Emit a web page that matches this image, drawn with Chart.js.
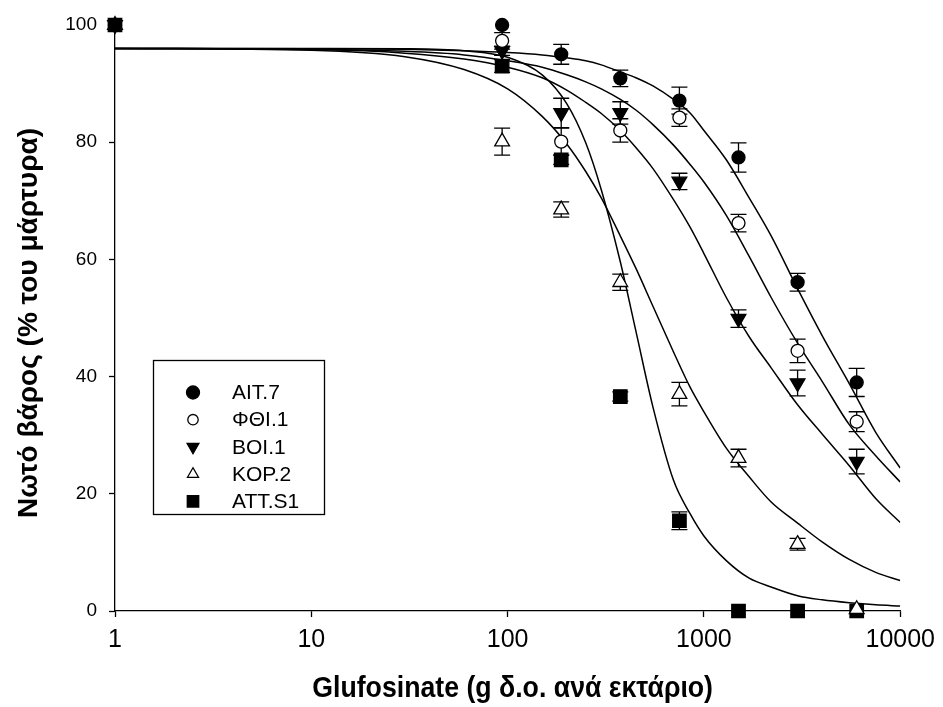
<!DOCTYPE html>
<html>
<head>
<meta charset="utf-8">
<script src="https://cdn.jsdelivr.net/npm/chart.js@4.4.0/dist/chart.umd.min.js"></script>
<style>
  html, body { margin: 0; padding: 0; background: #ffffff; }
  #wrap { width: 943px; height: 707px; }
</style>
</head>
<body>
<div id="wrap"><canvas id="chart" width="943" height="707"></canvas></div>
<script>
// Glufosinate doses (g a.i./ha) and observed dry weight (% of untreated control)
const doses = [1, 93.75, 187.5, 375, 750, 1500, 3000, 6000];
const seriesNames = ['AIT.7', 'ΦΘΙ.1', 'BOI.1', 'KOP.2', 'ATT.S1'];

const ait7    = [100, 100, 95.0, 90.9, 87.1, 77.4, 56.1, 39.0];
const ait7Err = [0, 0, 1.7, 1.4, 2.3, 2.5, 1.5, 2.4];
const fthi1    = [100, 97.3, 80.1, 82.0, 84.2, 66.2, 44.4, 32.3];
const fthi1Err = [0, 1.4, 2.3, 2.0, 1.5, 1.5, 2.0, 1.7];
const voi1    = [100, 95.6, 85.0, 85.0, 73.3, 49.9, 38.9, 25.5];
const voi1Err = [0, 0.8, 2.5, 1.9, 1.4, 1.5, 2.2, 2.1];
const kor2    = [100, 80.1, 68.5, 56.1, 37.0, 26.1, 11.4, 0.3];
const kor2Err = [0, 2.3, 1.3, 1.4, 2.0, 1.5, 1.0, 0];
const atts1    = [100, 93.0, 77.0, 36.6, 15.4, 0, 0, 0];
const atts1Err = [0, 1.1, 0.8, 0.8, 1.5, 0, 0, 0];

// Fitted dose-response curves
const curveDoses = [1, 10, 30, 60, 100, 150, 200, 250, 300, 375, 450, 550, 700, 850, 1000, 1300, 1700, 2200, 3000, 4000, 5500, 7500, 10000];
const ait7Fit  = [96, 95.95, 95.85, 95.6, 95.3, 94.9, 94.4, 93.9, 93.2, 92.0, 91.0, 89.6, 87.3, 85.0, 82.0, 77.0, 70.5, 64.0, 55.0, 47.0, 38.8, 30.5, 24.4];
const fthi1Fit = [96, 95.85, 95.5, 94.9, 93.9, 92.8, 91.5, 90.3, 89.1, 87.3, 85.5, 83.0, 79.5, 76.2, 73.2, 67.5, 60.5, 53.5, 45.7, 39.2, 31.8, 26.5, 22.0];
const voi1Fit  = [96, 95.8, 95.2, 94.2, 92.8, 91.0, 88.9, 86.8, 84.9, 82.0, 79.1, 75.5, 70.2, 65.5, 61.0, 53.5, 46.8, 41.5, 35.2, 30.2, 24.8, 19.2, 15.1];
const kor2Fit  = [96, 95.7, 94.6, 92.4, 89.1, 84.4, 79.7, 75.0, 70.5, 64.0, 58.5, 52.0, 44.2, 38.2, 34.0, 27.8, 22.9, 18.6, 15.0, 11.8, 8.8, 6.6, 5.2];
const atts1Fit = [96, 96, 95.95, 95.6, 94.5, 91.5, 86.6, 79.9, 71.9, 59.6, 47.8, 34.8, 22.3, 16.6, 12.8, 8.6, 5.6, 4.1, 2.6, 1.9, 1.4, 1.05, 0.85];

const xTicks = [1, 10, 100, 1000, 10000];
const yTicks = [0, 20, 40, 60, 80, 100];
const xTitle = 'Glufosinate (g δ.ο. ανά εκτάριο)';
const yTitle = 'Νωτό βάρος (% του μάρτυρα)';

// Marker appearance per population
const markers = [
  { style: 'circle',   rotation: 0,   fill: '#000000', radius: 6.5 },
  { style: 'circle',   rotation: 0,   fill: '#ffffff', radius: 6.5 },
  { style: 'triangle', rotation: 180, fill: '#000000', radius: 8.5 },
  { style: 'triangle', rotation: 0,   fill: '#ffffff', radius: 8.5 },
  { style: 'rect',     rotation: 0,   fill: '#000000', radius: 9.5 }
];

const observed = [ait7, fthi1, voi1, kor2, atts1];
const errors = [ait7Err, fthi1Err, voi1Err, kor2Err, atts1Err];
const fitted = [ait7Fit, fthi1Fit, voi1Fit, kor2Fit, atts1Fit];

const toPoints = (xs, ys) => xs.map((x, i) => ({ x: x, y: ys[i] }));

const pointSets = observed.map((vals, k) => ({
  label: seriesNames[k],
  data: toPoints(doses, vals),
  errors: errors[k],
  showLine: false,
  pointStyle: markers[k].style,
  pointRotation: markers[k].rotation,
  pointRadius: markers[k].radius,
  pointHoverRadius: markers[k].radius,
  pointBackgroundColor: markers[k].fill,
  pointBorderColor: '#000000',
  pointBorderWidth: 1.3,
  clip: false
}));

const curveSets = fitted.map((vals, k) => ({
  label: seriesNames[k] + ' fit',
  data: toPoints(curveDoses, vals),
  showLine: true,
  borderColor: '#000000',
  borderWidth: 1.5,
  pointRadius: 0,
  cubicInterpolationMode: 'monotone',
  fill: false
}));

// Vertical error bars with caps
const errorBarPlugin = {
  id: 'errorBars',
  beforeDatasetsDraw(chart) {
    const ctx = chart.ctx;
    const xs = chart.scales.x, ys = chart.scales.y;
    ctx.save();
    ctx.strokeStyle = '#000000';
    ctx.lineWidth = 1.3;
    chart.data.datasets.forEach(ds => {
      if (!ds.errors) return;
      ds.data.forEach((p, i) => {
        const e = ds.errors[i];
        if (!e) return;
        const px = xs.getPixelForValue(p.x);
        const top = ys.getPixelForValue(p.y + e);
        const bot = ys.getPixelForValue(p.y - e);
        ctx.beginPath();
        ctx.moveTo(px, top); ctx.lineTo(px, bot);
        ctx.moveTo(px - 8, top); ctx.lineTo(px + 8, top);
        ctx.moveTo(px - 8, bot); ctx.lineTo(px + 8, bot);
        ctx.stroke();
      });
    });
    ctx.restore();
  }
};

function drawMarker(ctx, m, x, y, r) {
  ctx.beginPath();
  if (m.style === 'circle') {
    ctx.arc(x, y, r, 0, Math.PI * 2);
  } else if (m.style === 'rect') {
    const s = r * Math.SQRT1_2;
    ctx.rect(x - s, y - s, 2 * s, 2 * s);
  } else {
    const dir = m.rotation === 180 ? 1 : -1;
    const w = r * Math.sqrt(3) / 2;
    ctx.moveTo(x, y + dir * r);
    ctx.lineTo(x - w, y - dir * r / 2);
    ctx.lineTo(x + w, y - dir * r / 2);
    ctx.closePath();
  }
  ctx.fillStyle = m.fill;
  ctx.fill();
  ctx.lineWidth = 1.3;
  ctx.strokeStyle = '#000000';
  ctx.stroke();
}

// Boxed key inside the plot
const keyPlugin = {
  id: 'keyBox',
  afterDraw(chart) {
    const ctx = chart.ctx;
    ctx.save();
    ctx.strokeStyle = '#000000';
    ctx.lineWidth = 1.3;
    ctx.strokeRect(153.5, 360.5, 171, 154);
    ctx.font = '21px "Liberation Sans", Arial, sans-serif';
    ctx.textBaseline = 'middle';
    const scale = [1, 0.8, 0.8, 0.75, 0.85];
    seriesNames.forEach((name, k) => {
      const cy = 392.5 + k * 27.2;
      drawMarker(ctx, markers[k], 193, cy, markers[k].radius * scale[k]);
      ctx.fillStyle = '#000000';
      ctx.fillText(name, 232, cy + 1);
    });
    ctx.restore();
  }
};

// Axis titles (x title set in a slightly condensed bold face)
const axisTitlePlugin = {
  id: 'axisTitles',
  afterDraw(chart) {
    const ctx = chart.ctx;
    const area = chart.chartArea;
    ctx.save();
    ctx.fillStyle = '#000000';
    ctx.textAlign = 'center';
    ctx.textBaseline = 'middle';
    ctx.font = 'bold 29px "Liberation Sans", Arial, sans-serif';
    ctx.save();
    ctx.translate((area.left + area.right) / 2 + 5, 689);
    ctx.scale(0.92, 1);
    ctx.fillText(xTitle, 0, 0);
    ctx.restore();
    ctx.font = 'bold 28px "Liberation Sans", Arial, sans-serif';
    ctx.translate(29, (area.top + area.bottom) / 2 + 5);
    ctx.rotate(-Math.PI / 2);
    ctx.fillText(yTitle, 0, 0);
    ctx.restore();
  }
};

new Chart(document.getElementById('chart'), {
  type: 'line',
  data: { datasets: [...pointSets, ...curveSets] },
  options: {
    responsive: false,
    animation: false,
    devicePixelRatio: 1,
    layout: { padding: { left: 0, right: 33, top: 25, bottom: 0 } },
    plugins: { legend: { display: false }, tooltip: { enabled: false } },
    scales: {
      x: {
        type: 'logarithmic',
        min: 1,
        max: 10000,
        afterBuildTicks(scale) { scale.ticks = xTicks.map(v => ({ value: v })); },
        afterFit(scale) { scale.height = 96; },
        border: { display: true, color: '#000000', width: 1.3 },
        grid: { display: true, drawOnChartArea: false, drawTicks: true, tickLength: 6, tickColor: '#000000', tickWidth: 1.3 },
        ticks: {
          color: '#000000',
          padding: 8,
          maxRotation: 0,
          autoSkip: false,
          font: { family: '"Liberation Sans", Arial, sans-serif', size: 25 },
          callback: (v) => String(v)
        }
      },
      y: {
        type: 'linear',
        min: 0,
        max: 100,
        afterBuildTicks(scale) { scale.ticks = yTicks.map(v => ({ value: v })); },
        afterFit(scale) { scale.width = 115; },
        border: { display: true, color: '#000000', width: 1.3 },
        grid: { display: true, drawOnChartArea: false, drawTicks: true, tickLength: 6, tickColor: '#000000', tickWidth: 1.3 },
        ticks: {
          color: '#000000',
          padding: 12,
          font: { family: '"Liberation Sans", Arial, sans-serif', size: 19 },
          callback: (v) => String(v)
        }
      }
    }
  },
  plugins: [errorBarPlugin, keyPlugin, axisTitlePlugin]
});
</script>
</body>
</html>
